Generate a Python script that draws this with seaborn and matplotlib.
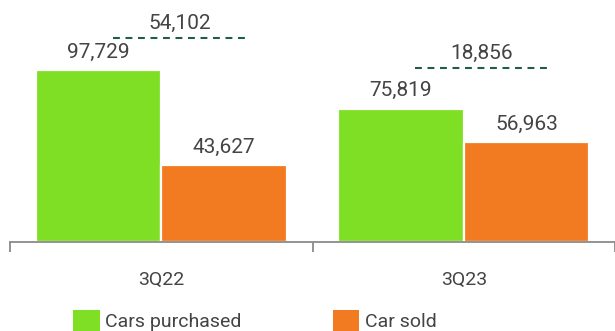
import matplotlib
matplotlib.use("Agg")
import matplotlib.pyplot as plt
from matplotlib.patches import Patch
from matplotlib.ticker import FixedLocator
import seaborn as sns
import pandas as pd

periods = ["3Q22", "3Q23"]
series_names = ["Cars purchased", "Car sold"]
cars_purchased = [97729, 75819]
cars_sold = [43627, 56963]

GREEN = "#7EDF24"
ORANGE = "#F27B21"
DASH = "#1E5E45"
TEXT = "#444444"

sns.set_theme(style="white")
plt.rcParams["font.family"] = ["Roboto", "DejaVu Sans"]

df = pd.DataFrame({
    "period": periods * 2,
    "series": [series_names[0]] * len(periods) + [series_names[1]] * len(periods),
    "value": cars_purchased + cars_sold,
})

fig = plt.figure(figsize=(6.15, 3.31), dpi=100)
ax = fig.add_axes([10 / 615, 89 / 331, 1 - 10 / 615, 242 / 331])

sns.barplot(data=df, x="period", y="value", hue="series", order=periods,
            hue_order=series_names, palette=[GREEN, ORANGE], width=0.83,
            edgecolor="white", linewidth=1.6, ax=ax, legend=False, saturation=1)

for cont in ax.containers:
    ax.bar_label(cont, labels=[f"{v:,.0f}" for v in cont.datavalues],
                 padding=6, fontsize=15, color=TEXT)

gaps = [18000, 23000]
for i, (p, s) in enumerate(zip(cars_purchased, cars_sold)):
    y = max(p, s) + gaps[i]
    ax.plot([i - 0.16, i + 0.28], [y, y], ls=(0, (3.3, 2.7)), color=DASH, lw=1.5)
    ax.text(i + 0.06, y + 3000, f"{p - s:,.0f}", ha="center", va="bottom",
            fontsize=15, color=TEXT)

ax.set_xlim(-0.5, 1.5)
ax.set_ylim(0, 137500)
ax.set_xlabel("")
ax.set_ylabel("")
ax.set_yticks([])
for sp in ["top", "right", "left"]:
    ax.spines[sp].set_visible(False)
ax.spines["bottom"].set_color("#8a8a8a")
ax.spines["bottom"].set_linewidth(1.3)
ax.xaxis.set_minor_locator(FixedLocator([-0.5, 0.5, 1.5]))
ax.tick_params(axis="x", which="major", length=0, pad=21, labelsize=14, labelcolor=TEXT)
ax.tick_params(axis="x", which="minor", length=7, width=1.3, color="#8a8a8a", direction="out", bottom=True)

handles = [Patch(facecolor=GREEN, edgecolor="none"), Patch(facecolor=ORANGE, edgecolor="none")]
fig.legend(handles, series_names, loc="lower center", bbox_to_anchor=(0.415, -0.055),
           ncol=2, frameon=False, fontsize=14, labelcolor=TEXT,
           handlelength=1.35, handleheight=1.35, handletextpad=0.3, columnspacing=4.7)

fig.savefig("out.png", dpi=100)
